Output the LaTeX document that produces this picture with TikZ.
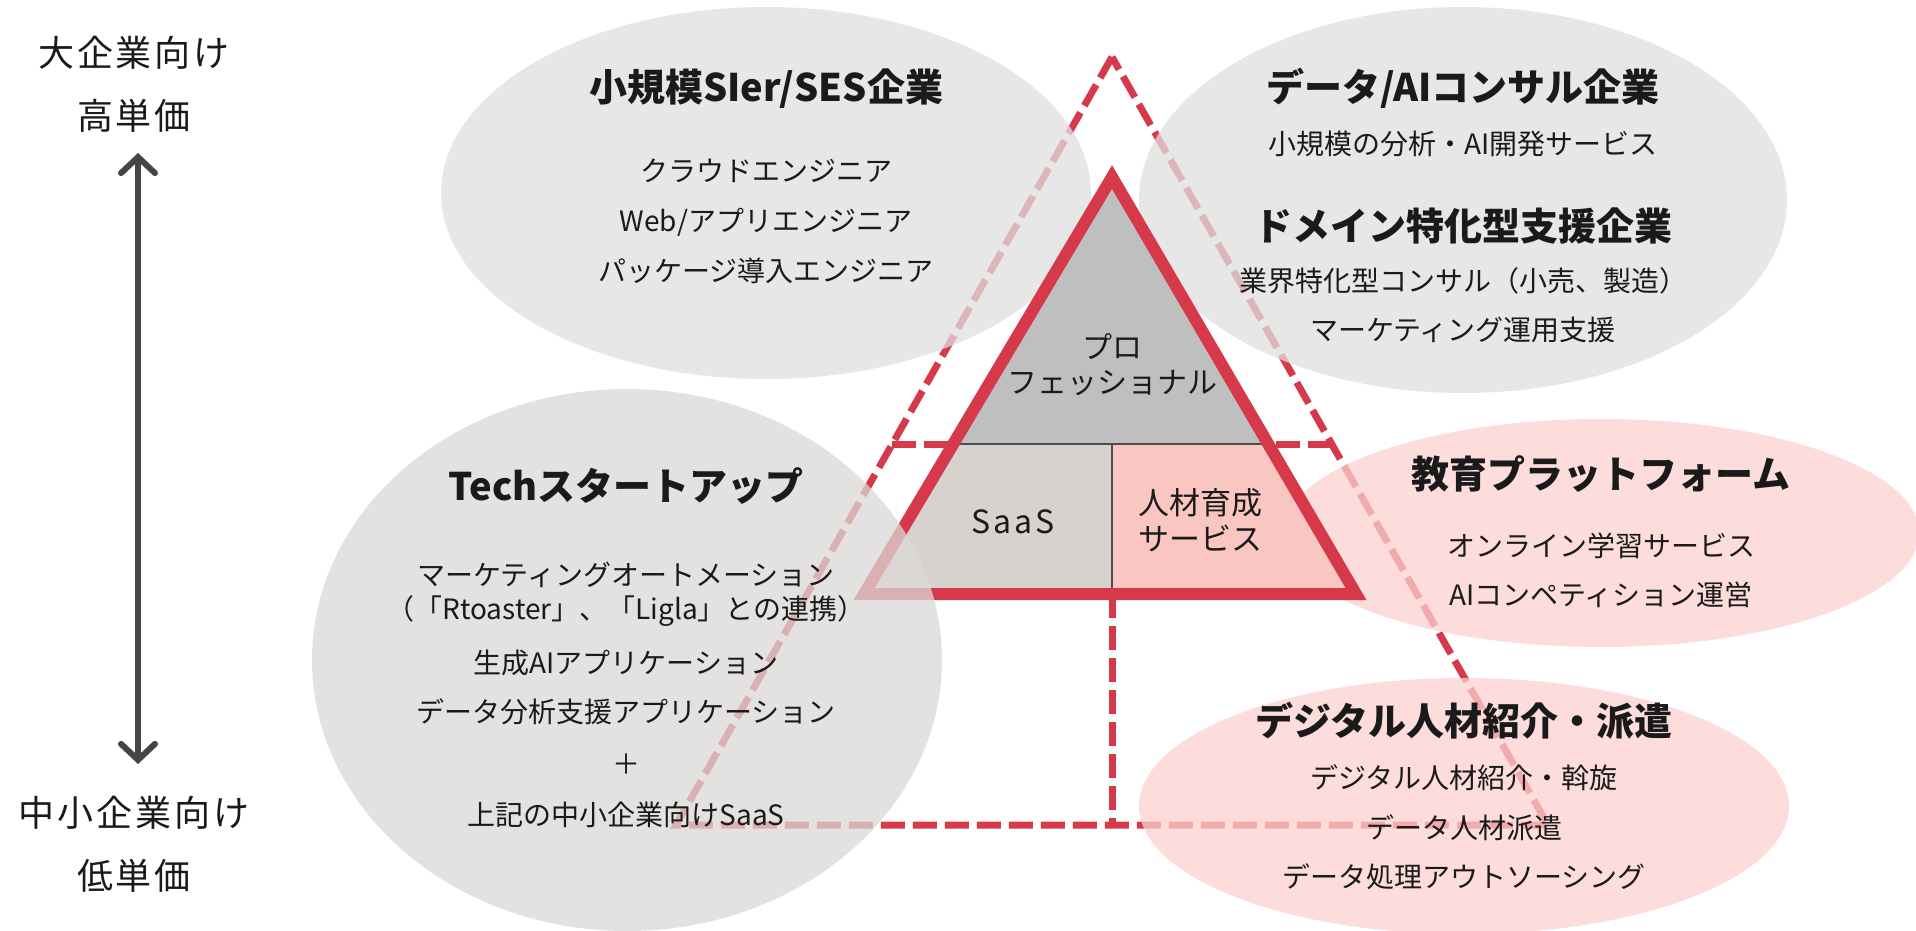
\documentclass[tikz,border=0pt]{standalone}
\usepackage{fontspec}
\setmainfont{Noto Sans CJK JP}
\newfontfamily\sidefont[LetterSpace=8.0]{Noto Sans CJK JP}
\newfontfamily\spacedfont[LetterSpace=10.0]{Noto Sans CJK JP}
\usetikzlibrary{arrows.meta}
\definecolor{tred}{HTML}{D63A4A}
\definecolor{ellgray}{HTML}{E0E0E0}
\definecolor{techgray}{HTML}{DCD9D6}
\definecolor{ellpink}{HTML}{FCD2CF}
\definecolor{topfill}{HTML}{BFBFBF}
\definecolor{saasfill}{HTML}{D6D3CF}
\definecolor{hrfill}{HTML}{F9C6C2}
\definecolor{txt}{HTML}{1A1A1A}
\definecolor{arrgray}{HTML}{454545}
\begin{document}
\begin{tikzpicture}[x=1pt,y=-1pt,
  lbl/.style={inner sep=0pt, align=center, text=txt},
  ttl/.style={lbl, font=\fontsize{38}{44}\selectfont\bfseries},
  itm/.style={lbl, font=\fontsize{28}{34}\selectfont},
  side/.style={lbl, font=\fontsize{36}{42}\selectfont\sidefont},
  tri/.style={lbl, font=\fontsize{30}{35}\selectfont},
  dashred/.style={draw=tred, line width=7pt, dash pattern=on 24pt off 8pt, line join=miter},
  solidred/.style={draw=tred, line width=12pt, line join=miter},
  divider/.style={draw=black!70, line width=2pt},
  ell/.style={fill opacity=0.75},
  arrowline/.style={draw=arrgray, line width=6pt, line cap=round,
    arrows={Straight Barb[length=16pt,width=34pt,line cap=round]-Straight Barb[length=16pt,width=34pt,line cap=round]}}
]
\clip (0,0) rectangle (1916,931);
\fill[white] (0,0) rectangle (1916,931);

% dashed outer triangle
\coordinate (dA) at (1112,57);
\coordinate (dL) at (676,825);
\coordinate (dR) at (1548,825);
\coordinate (dML) at (892,444);
\coordinate (dMR) at (1332,444);
\coordinate (dVT) at (1112,594);
\coordinate (dVB) at (1112,825);
\draw[dashred] (dA) -- (dL) -- (dR) -- cycle;
\draw[dashred] (dML) -- (dMR);
\draw[dashred] (dVT) -- (dVB);

% ellipses below the solid triangle
\fill[ellgray, ell] (766,193) ellipse [x radius=325pt, y radius=186pt];
\fill[ellgray, ell] (1463,200) ellipse [x radius=324pt, y radius=193pt];
\fill[ellpink, ell] (1601,533) ellipse [x radius=318pt, y radius=114pt];
\fill[ellpink, ell] (1464,806) ellipse [x radius=325pt, y radius=128pt];

% solid triangle
\coordinate (tA) at (1112,177);
\coordinate (tL) at (864,594);
\coordinate (tR) at (1356,594);
\coordinate (tML) at (953,444);
\coordinate (tMR) at (1271,444);
\coordinate (tMC) at (1112,444);
\coordinate (tBC) at (1112,594);
\fill[topfill] (tA) -- (tML) -- (tMR) -- cycle;
\fill[saasfill] (tML) -- (tMC) -- (tBC) -- (tL) -- cycle;
\fill[hrfill] (tMC) -- (tMR) -- (tR) -- (tBC) -- cycle;
\draw[divider] (tML) -- (tMR);
\draw[divider] (tMC) -- (tBC);
\draw[solidred] (tA) -- (tL) -- (tR) -- cycle;

% tech ellipse above the triangle
\fill[techgray, ell] (627,660) ellipse [x radius=315pt, y radius=271pt];

% side axis
\node[side] (big1) at (134,53) {大企業向け};
\node[side] (big2) at (134,116) {高単価};
\node[side] (sm1) at (134,813) {中小企業向け};
\node[side] (sm2) at (134,876) {低単価};
\coordinate (arrT) at (138,153);
\coordinate (arrB) at (138,764);
\draw[arrowline] (arrT) -- (arrB);

% triangle labels
\node[tri] (pro) at (1112,365) {プロ\\フェッショナル};
\node[tri, font=\fontsize{32}{35}\selectfont\spacedfont] (saas) at (1013,522) {SaaS};
\node[tri, font=\fontsize{31}{36}\selectfont] (hr) at (1200,520) {人材育成\\サービス};

% top-left
\node[ttl] (sierT) at (766,89) {小規模SIer/SES企業};
\node[itm] (sier1) at (766,171) {クラウドエンジニア};
\node[itm] (sier2) at (766,222) {Web/アプリエンジニア};
\node[itm] (sier3) at (766,271) {パッケージ導入エンジニア};

% top-right
\node[ttl] (aiT) at (1463,88) {データ/AIコンサル企業};
\node[itm] (ai1) at (1463,144) {小規模の分析・AI開発サービス};
\node[ttl] (domT) at (1463,226) {ドメイン特化型支援企業};
\node[itm] (dom1) at (1463,281) {業界特化型コンサル（小売、製造）};
\node[itm] (dom2) at (1463,330) {マーケティング運用支援};

% tech
\node[ttl] (techT) at (626,486) {Techスタートアップ};
\node[itm] (tech1) at (626,594) {マーケティングオートメーション\\（「Rtoaster」、「Ligla」との連携）};
\node[itm] (tech2) at (626,663) {生成AIアプリケーション};
\node[itm] (tech3) at (626,712) {データ分析支援アプリケーション};
\node[itm] (tech4) at (626,764) {＋};
\node[itm] (tech5) at (626,815) {上記の中小企業向けSaaS};

% education
\node[ttl] (eduT) at (1601,474) {教育プラットフォーム};
\node[itm] (edu1) at (1601,546) {オンライン学習サービス};
\node[itm] (edu2) at (1601,595) {AIコンペティション運営};

% digital
\node[ttl] (digT) at (1464,721) {デジタル人材紹介・派遣};
\node[itm] (dig1) at (1464,778) {デジタル人材紹介・斡旋};
\node[itm] (dig2) at (1464,828) {データ人材派遣};
\node[itm] (dig3) at (1464,877) {データ処理アウトソーシング};
\end{tikzpicture}
\end{document}
